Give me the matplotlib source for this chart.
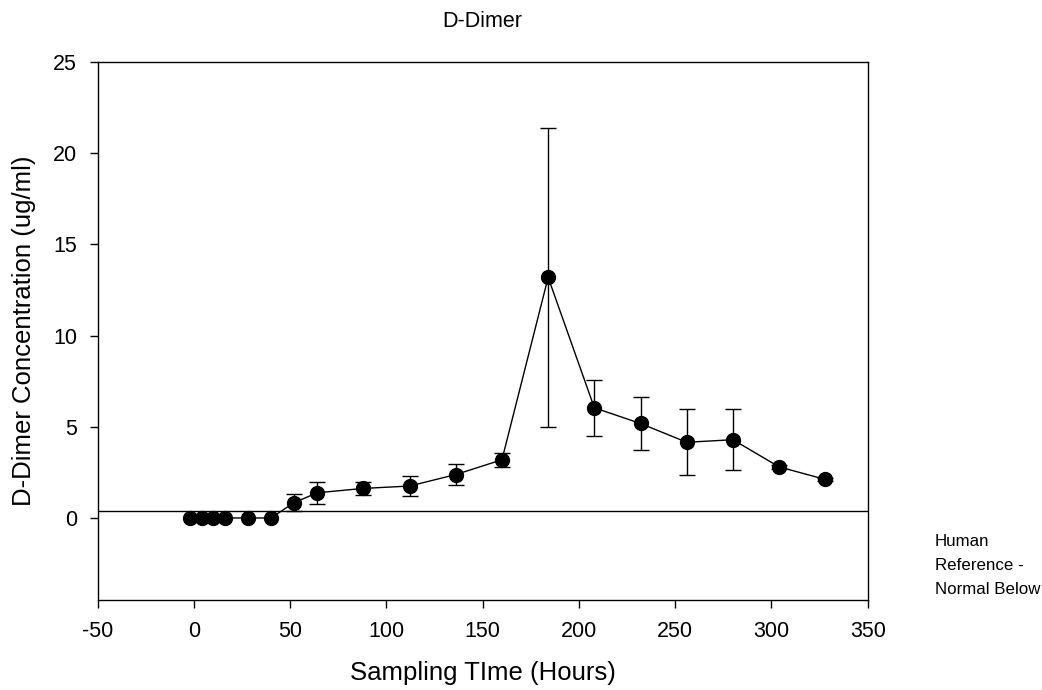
import numpy as np
import matplotlib
matplotlib.use("Agg")
import matplotlib.pyplot as plt

plt.rcParams['font.family'] = ['Liberation Sans', 'DejaVu Sans']
plt.rcParams['axes.unicode_minus'] = False

# sampling times (hours) and D-dimer means / error bars
hours = [-2, 4, 10, 16, 28, 40, 52, 64, 88, 112, 136, 160, 184, 208, 232, 256, 280, 304, 328]
conc = [0, 0, 0, 0, 0, 0, 0.84, 1.38, 1.62, 1.75, 2.38, 3.19, 13.19, 6.04, 5.18, 4.15, 4.29, 2.80, 2.11]
err = [0, 0, 0, 0, 0, 0, 0.47, 0.6, 0.35, 0.55, 0.57, 0.38, 8.2, 1.52, 1.47, 1.8, 1.66, 0.1, 0.1]
ref_level = 0.4

fig = plt.figure(figsize=(10.42, 6.9), dpi=100)
ax = fig.add_axes([0.0938, 0.1304, 0.7389, 0.7797])

# error bars only where there is a spread
has_err = [e > 0 for e in err]
ax.errorbar([h for h, k in zip(hours, has_err) if k],
            [c for c, k in zip(conc, has_err) if k],
            yerr=[e for e in err if e > 0], fmt='none', ecolor='black',
            elinewidth=1, capsize=6, capthick=1, zorder=2)

# mean line + markers
ax.plot(hours, conc, 'o-', color='black', markersize=10, linewidth=1, zorder=3)

# human reference line
ax.axhline(ref_level, color='black', linewidth=1)

ax.set_xlim(-50, 350)
ax.set_ylim(-4.5, 25)
ax.set_xticks(np.arange(-50, 351, 50))
ax.set_yticks(np.arange(0, 26, 5))
ax.tick_params(direction='out', length=6, width=1, labelsize=15.5, pad=9)
for s in ax.spines.values():
    s.set_linewidth(1)

ax.set_title("D-Dimer", fontsize=15.5, pad=25)
ax.set_xlabel("Sampling TIme (Hours)", fontsize=18.5, labelpad=14)
ax.set_ylabel("D-Dimer Concentration (ug/ml)", fontsize=18.5, labelpad=12)

fig.text(0.897, 1 - 565 / 690, "Human\nReference -\nNormal Below",
         fontsize=12.2, va='center', ha='left', linespacing=1.75)

fig.savefig("out.png", dpi=100)
